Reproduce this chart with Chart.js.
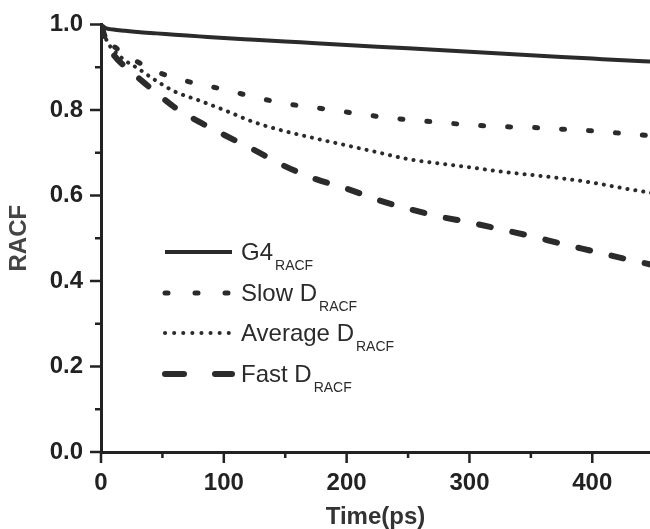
<!DOCTYPE html>
<html>
<head>
<meta charset="utf-8">
<script src="https://cdn.jsdelivr.net/npm/chart.js@4.4.0/dist/chart.umd.min.js"></script>
<style>
  html, body { margin: 0; padding: 0; background: #fff; }
  #wrap { width: 650px; height: 529px; position: relative; }
</style>
</head>
<body>
<div id="wrap"><canvas id="racf_chart"></canvas></div>
<script>
// Данные
const timePs = [0, 2, 5, 10, 20, 30, 45, 60, 80, 100, 125, 150, 175, 200, 225, 250, 275, 300, 325, 350, 375, 400, 425, 450];
const g4Racf = [1.0, 0.995, 0.99, 0.988, 0.985, 0.982, 0.979, 0.976, 0.972, 0.968, 0.964, 0.96, 0.956, 0.952, 0.948, 0.944, 0.94, 0.936, 0.932, 0.928, 0.924, 0.92, 0.916, 0.913];
const slowRacf = [1.0, 0.985, 0.965, 0.95, 0.93, 0.912, 0.89, 0.875, 0.86, 0.848, 0.83, 0.815, 0.805, 0.795, 0.785, 0.777, 0.771, 0.765, 0.761, 0.759, 0.755, 0.751, 0.745, 0.739];
const avgRacf = [1.0, 0.982, 0.96, 0.94, 0.915, 0.897, 0.868, 0.843, 0.822, 0.8, 0.771, 0.75, 0.733, 0.717, 0.701, 0.685, 0.675, 0.666, 0.656, 0.648, 0.64, 0.63, 0.617, 0.605];
const fastRacf = [1.0, 0.98, 0.955, 0.93, 0.9, 0.876, 0.84, 0.806, 0.772, 0.742, 0.706, 0.668, 0.638, 0.616, 0.59, 0.569, 0.551, 0.537, 0.521, 0.505, 0.487, 0.47, 0.453, 0.437];
const xTicks = [0, 100, 200, 300, 400];
const yTicks = [0, 0.2, 0.4, 0.6, 0.8, 1.0];
const seriesNames = ["G4", "Slow D", "Average D", "Fast D"];

const FONT = '"Liberation Sans", Arial, sans-serif';
const INK = "#2b2b2b";

const toPoints = (arr) => arr.map((v, i) => ({ x: timePs[i], y: v }));

// Засечки осей: большие и малые
const axisTicks = {
  id: "axisTicks",
  afterDraw(chart) {
    const { ctx, scales: { x, y } } = chart;
    ctx.save();
    ctx.strokeStyle = "#222";
    ctx.lineWidth = 2.5;
    const yMinor = yTicks.slice(1).map((v, i) => (v + yTicks[i]) / 2);
    const xMinor = xTicks.slice(1).map((v, i) => (v + xTicks[i]) / 2);
    const left = x.left;
    const bottom = y.bottom;
    ctx.beginPath();
    // ось X чуть заходит левее оси Y
    ctx.moveTo(left - 11, bottom);
    ctx.lineTo(left, bottom);
    yTicks.forEach((v) => {
      const py = y.getPixelForValue(v);
      ctx.moveTo(left - 11, py);
      ctx.lineTo(left, py);
    });
    yMinor.forEach((v) => {
      const py = y.getPixelForValue(v);
      ctx.moveTo(left - 6, py);
      ctx.lineTo(left, py);
    });
    xTicks.forEach((v) => {
      const px = x.getPixelForValue(v);
      ctx.moveTo(px, bottom);
      ctx.lineTo(px, bottom + 11);
    });
    xMinor.forEach((v) => {
      const px = x.getPixelForValue(v);
      ctx.moveTo(px, bottom);
      ctx.lineTo(px, bottom + 6);
    });
    ctx.stroke();
    ctx.restore();
  },
};

// Легенда с нижним индексом
const subLegend = {
  id: "subLegend",
  afterDraw(chart) {
    const { ctx } = chart;
    const legendDash = [[], [3, 27], [0.1, 9], [19, 31]];
    const rows = [252, 293, 333, 374];
    ctx.save();
    chart.data.datasets.forEach((ds, i) => {
      const ly = rows[i];
      ctx.strokeStyle = ds.borderColor;
      ctx.lineWidth = ds.borderWidth;
      ctx.lineCap = i === 0 ? "butt" : "round";
      ctx.setLineDash(legendDash[i]);
      ctx.beginPath();
      ctx.moveTo(165, ly);
      ctx.lineTo(232, ly);
      ctx.stroke();
      ctx.setLineDash([]);
      ctx.fillStyle = INK;
      ctx.font = "24px " + FONT;
      ctx.textBaseline = "alphabetic";
      ctx.fillText(seriesNames[i], 241, ly + 8);
      const w = ctx.measureText(seriesNames[i]).width;
      ctx.font = "14px " + FONT;
      ctx.fillText("RACF", 241 + w + 2, ly + 18);
    });
    ctx.restore();
  },
};

const ctx = document.getElementById("racf_chart").getContext("2d");
const myChart = new Chart(ctx, {
  type: "line",
  data: {
    datasets: [
      {
        label: "G4",
        data: toPoints(g4Racf),
        borderColor: INK,
        borderWidth: 4,
        borderDash: [],
      },
      {
        label: "Slow D",
        data: toPoints(slowRacf),
        borderColor: INK,
        borderWidth: 5,
        borderDash: [3, 24],
        borderCapStyle: "round",
      },
      {
        label: "Average D",
        data: toPoints(avgRacf),
        borderColor: INK,
        borderWidth: 4,
        borderDash: [0.1, 7.9],
        borderCapStyle: "round",
      },
      {
        label: "Fast D",
        data: toPoints(fastRacf),
        borderColor: INK,
        borderWidth: 6,
        borderDash: [12, 22],
        borderCapStyle: "round",
      },
    ],
  },
  plugins: [axisTicks, subLegend],
  options: {
    responsive: true,
    maintainAspectRatio: false,
    animation: false,
    devicePixelRatio: 1,
    layout: { padding: { top: 17, left: 0, right: 0, bottom: 0 } },
    elements: {
      point: { radius: 0 },
      line: { cubicInterpolationMode: "monotone", fill: false },
    },
    plugins: {
      legend: { display: false },
      tooltip: { enabled: false },
    },
    scales: {
      x: {
        type: "linear",
        min: 0,
        max: 447,
        afterFit: (s) => { s.height = 77; },
        afterBuildTicks: (s) => { s.ticks = xTicks.map((v) => ({ value: v })); },
        grid: { display: false },
        border: { display: true, color: "#222", width: 3 },
        ticks: {
          padding: 9,
          color: "#222",
          maxRotation: 0,
          font: { family: FONT, size: 24, weight: "bold" },
        },
        title: {
          display: true,
          text: "Time(ps)",
          color: "#333",
          padding: 0,
          font: { family: FONT, size: 24, weight: "bold", lineHeight: 1 },
        },
      },
      y: {
        min: 0,
        max: 1,
        afterFit: (s) => { s.width = 101; },
        afterBuildTicks: (s) => { s.ticks = yTicks.map((v) => ({ value: v })); },
        grid: { display: false },
        border: { display: true, color: "#222", width: 3 },
        ticks: {
          padding: 10,
          color: "#222",
          callback: (v) => Number(v).toFixed(1),
          font: { family: FONT, size: 24, weight: "bold" },
        },
        title: {
          display: true,
          text: "RACF",
          color: "#444",
          padding: { top: 7, bottom: 0 },
          font: { family: FONT, size: 24, weight: "bold", lineHeight: 1 },
        },
      },
    },
  },
});
</script>
</body>
</html>
